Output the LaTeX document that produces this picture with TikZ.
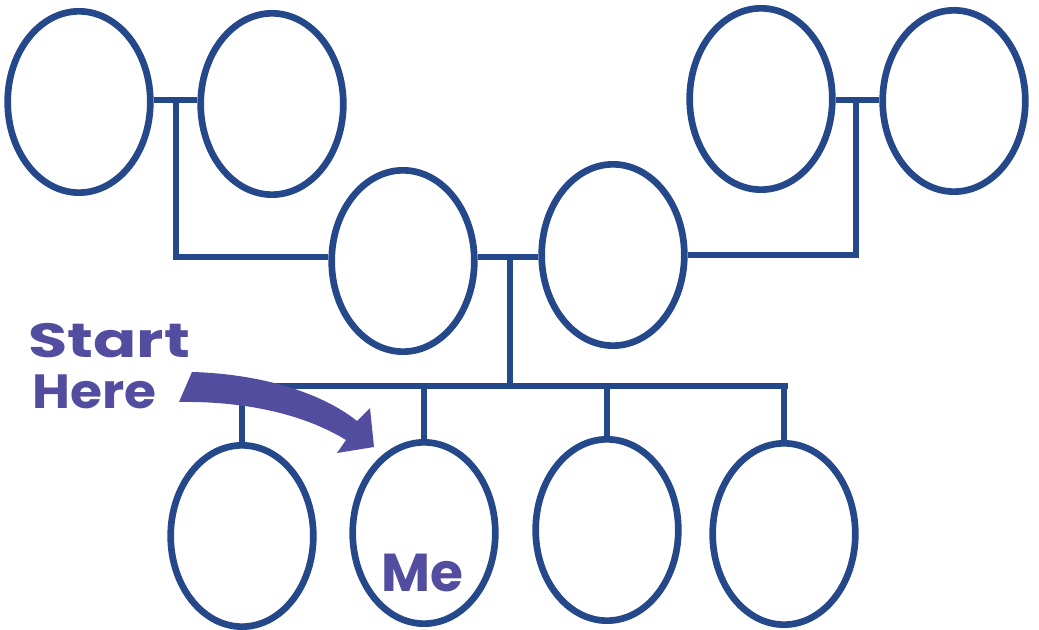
\documentclass[tikz,border=0pt]{standalone}
\usepackage{fontspec}
\usepackage{tikz}
\usetikzlibrary{shapes.geometric}
\newfontfamily\tagfont{Poppins}
\definecolor{treeblue}{HTML}{24488A}
\definecolor{tagpurple}{HTML}{534DA0}
\tikzset{
  person/.style={ellipse, draw=treeblue, line width=5pt, fill=white, inner sep=0pt,
    minimum width=107pt, minimum height=136pt},
  link/.style={draw=treeblue, line width=5pt},
  tag/.style={text=tagpurple, font=\tagfont\bfseries, inner sep=0pt}
}
\begin{document}
\begin{tikzpicture}[x=0.75pt,y=-0.75pt]
\useasboundingbox (0,0) rectangle (1039,630);

\node [person] (gpa1) at (79,102) {};
\node [person] (gpa2) at (272,104) {};
\node [person] (gpa3) at (761,99) {};
\node [person] (gpa4) at (954,101) {};
\node [person] (mum) at (403,261) {};
\node [person] (dad) at (613,255) {};
\node [person] (kid1) at (242,536) {};
\node [person] (me) at (424,533) {};
\node [person] (kid3) at (607,530) {};
\node [person] (kid4) at (784,534) {};

\coordinate (j1) at (176,100);
\coordinate (j2) at (510,257);
\coordinate (j3) at (856,100);
\coordinate (bar) at (510,386);

\draw [link] (gpa1.east |- j1) -- (gpa2.west |- j1);
\draw [link] (gpa3.east |- j3) -- (gpa4.west |- j3);
\draw [link] (mum.east |- j2) -- (dad.west |- j2);
\draw [link] (j1) |- (mum.west |- j2);
\draw [link] (j3) |- (dad.east);
\draw [link] (j2) -- (bar);
\draw [link] (kid1.north |- bar) -- ([xshift=3]kid4.north |- bar);
\draw [link] (kid1.north) -- (kid1.north |- bar);
\draw [link] (me.north) -- (me.north |- bar);
\draw [link] (kid3.north) -- (kid3.north |- bar);
\draw [link] (kid4.north) -- (kid4.north |- bar);

\node [tag, font=\tagfont\bfseries\fontsize{36}{36}\selectfont, anchor=base west, xscale=1.33] (start) at (28,358) {Start};
\node [tag, font=\tagfont\bfseries\fontsize{36}{36}\selectfont, anchor=base west, xscale=1.08] (here) at (32,409) {Here};
\node [tag, font=\tagfont\bfseries\fontsize{40}{40}\selectfont, anchor=base] (metag) at (422,591) {Me};

\fill [tagpurple] (192,372) .. controls (262,374) and (322,393) .. (357,421)
  -- (370,408) -- (374,447) -- (337,453) -- (346,440)
  .. controls (302,413) and (242,401) .. (179,402) -- cycle;
\end{tikzpicture}
\end{document}
